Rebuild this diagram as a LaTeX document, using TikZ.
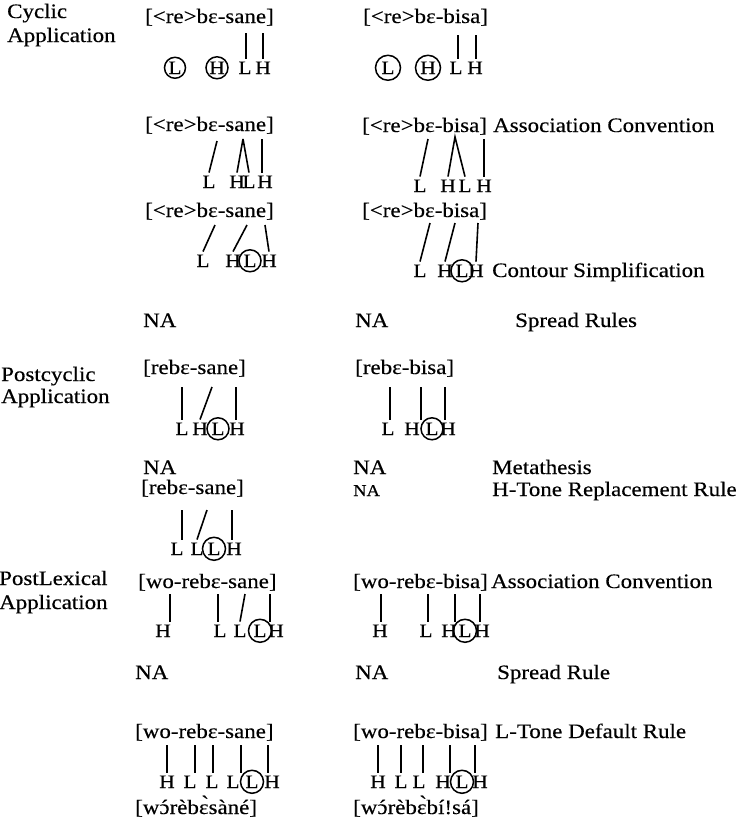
\documentclass[tikz,border=0pt]{standalone}
\usepackage{fontspec}
\setmainfont{Liberation Serif}[FakeStretch=1.12,FakeBold=0.35]
\newcommand{\acu}[1]{\accent"B4 #1}
\begin{document}
\begin{tikzpicture}[x=1pt,y=-1pt,
  lbl/.style={anchor=base west, inner sep=0pt, font=\fontsize{20.5}{24}\selectfont},
  smalllbl/.style={anchor=base west, inner sep=0pt, font=\fontsize{16.5}{19}\selectfont},
  tone/.style={anchor=base, inner sep=0pt, outer sep=3pt, font=\fontsize{19}{22}\selectfont},
  ringline/.style={line width=1.5pt},
  assoc/.style={line width=1.6pt},
]
\useasboundingbox (0,0) rectangle (742,825);

% ---------- Row labels
\node[lbl] (cyc1) at (7,18) {Cyclic};
\node[lbl] (cyc2) at (7,42) {Application};
\node[lbl] (pc1) at (1,381) {Postcyclic};
\node[lbl] (pc2) at (1,403) {Application};
\node[lbl] (pl1) at (-1,585) {PostLexical};
\node[lbl] (pl2) at (-1,609) {Application};

% ---------- Row 1
\node[lbl] (b1l) at (145,23) {[<re>bɛ-sane]};
\node[tone] (r1lA) at (175,74) {L};
\node[tone] (r1lB) at (217,74) {H};
\node[tone] (r1lC) at (245,74) {L};
\node[tone] (r1lD) at (263,74) {H};
\draw[ringline] (r1lA.center) circle[radius=10.5pt];
\draw[ringline] (r1lB.center) circle[radius=11pt];
\coordinate (t1l1) at (246,33);
\coordinate (t1l2) at (263,33);
\draw[assoc] (t1l1) -- (t1l1 |- r1lC.north);
\draw[assoc] (t1l2) -- (t1l2 |- r1lD.north);

\node[lbl] (b1r) at (363,23) {[<re>bɛ-bisa]};
\node[tone] (r1rA) at (388,74) {L};
\node[tone] (r1rB) at (428,74) {H};
\node[tone] (r1rC) at (456,74) {L};
\node[tone] (r1rD) at (475,74) {H};
\draw[ringline] (r1rA.center) circle[radius=12.5pt];
\draw[ringline] (r1rB.center) circle[radius=12.5pt];
\coordinate (t1r1) at (458,35);
\coordinate (t1r2) at (476,35);
\draw[assoc] (t1r1) -- (t1r1 |- r1rC.north);
\draw[assoc] (t1r2) -- (t1r2 |- r1rD.north);

% ---------- Row 2
\node[lbl] (b2l) at (145,131) {[<re>bɛ-sane]};
\node[tone] (r2lA) at (209,188) {L};
\node[tone] (r2lB) at (237,188) {H};
\node[tone] (r2lC) at (249,188) {L};
\node[tone] (r2lD) at (265,188) {H};
\coordinate (t2l1) at (217,141);
\coordinate (t2l2) at (243,139);
\coordinate (t2l3) at (262,139);
\draw[assoc] (t2l1) -- (r2lA.north);
\draw[assoc] (t2l2) -- (r2lB.north);
\draw[assoc] (t2l2) -- (r2lC.north);
\draw[assoc] (t2l3) -- (t2l3 |- r2lD.north);

\node[lbl] (b2r) at (362,132) {[<re>bɛ-bisa]};
\node[lbl] (rule2) at (493,132) {Association Convention};
\node[tone] (r2rA) at (420,192) {L};
\node[tone] (r2rB) at (448,192) {H};
\node[tone] (r2rC) at (465,192) {L};
\node[tone] (r2rD) at (484,192) {H};
\coordinate (t2r1) at (428,139);
\coordinate (t2r2) at (455,137);
\coordinate (t2r3) at (484,139);
\draw[assoc] (t2r1) -- (r2rA.north);
\draw[assoc] (r2rB.north) -- (t2r2) -- (r2rC.north);
\draw[assoc] (t2r3) -- (r2rD.north);

% ---------- Row 3
\node[lbl] (b3l) at (145,217) {[<re>bɛ-sane]};
\node[tone] (r3lA) at (203,267) {L};
\node[tone] (r3lB) at (233,267) {H};
\node[tone] (r3lC) at (250,267) {L};
\node[tone] (r3lD) at (269,267) {H};
\draw[ringline] (r3lC.center) circle[radius=11pt];
\coordinate (t3l1) at (215,225);
\coordinate (t3l2) at (247,225);
\coordinate (t3l3) at (265,225);
\draw[assoc] (t3l1) -- (r3lA.north);
\draw[assoc] (t3l2) -- (r3lB.north);
\draw[assoc] (t3l3) -- (r3lD.north);

\node[lbl] (b3r) at (362,217) {[<re>bɛ-bisa]};
\node[tone] (r3rA) at (420,277) {L};
\node[tone] (r3rB) at (445,277) {H};
\node[tone] (r3rC) at (462,277) {L};
\node[tone] (r3rD) at (476,277) {H};
\draw[ringline] (r3rC.center) circle[radius=11pt];
\node[lbl] (rule3) at (492,277) {Contour Simplification};
\coordinate (t3r1) at (430,223);
\coordinate (t3r2) at (455,223);
\coordinate (t3r3) at (478,223);
\draw[assoc] (t3r1) -- (r3rA.north);
\draw[assoc] (t3r2) -- (r3rB.north);
\draw[assoc] (t3r3) -- (r3rD.north);

% ---------- Row 4
\node[lbl] (na4l) at (143,327) {NA};
\node[lbl] (na4r) at (355,327) {NA};
\node[lbl] (rule4) at (515,327) {Spread Rules};

% ---------- Row 5
\node[lbl] (b5l) at (143,374) {[rebɛ-sane]};
\node[tone] (r5lA) at (182,435) {L};
\node[tone] (r5lB) at (200,435) {H};
\node[tone] (r5lC) at (218,435) {L};
\node[tone] (r5lD) at (237,435) {H};
\draw[ringline] (r5lC.center) circle[radius=11pt];
\coordinate (t5l1) at (182,387);
\coordinate (t5l2) at (212,387);
\coordinate (t5l3) at (236,387);
\draw[assoc] (t5l1) -- (t5l1 |- r5lA.north);
\draw[assoc] (t5l2) -- (r5lB.north);
\draw[assoc] (t5l3) -- (t5l3 |- r5lD.north);

\node[lbl] (b5r) at (355,374) {[rebɛ-bisa]};
\node[tone] (r5rA) at (388,435) {L};
\node[tone] (r5rB) at (412,435) {H};
\node[tone] (r5rC) at (432,435) {L};
\node[tone] (r5rD) at (448,435) {H};
\draw[ringline] (r5rC.center) circle[radius=11pt];
\coordinate (t5r1) at (390,387);
\coordinate (t5r2) at (421,387);
\coordinate (t5r3) at (445,387);
\draw[assoc] (t5r1) -- (t5r1 |- r5rA.north);
\draw[assoc] (t5r2) -- (t5r2 |- r5rB.north);
\draw[assoc] (t5r3) -- (t5r3 |- r5rD.north);

% ---------- Row 6
\node[lbl] (na6l) at (143,474) {NA};
\node[lbl] (na6r) at (353,474) {NA};
\node[lbl] (rule6) at (492,474) {Metathesis};

% ---------- Row 7
\node[lbl] (b7l) at (141,494) {[rebɛ-sane]};
\node[tone] (r7lA) at (177,555) {L};
\node[tone] (r7lB) at (197,555) {L};
\node[tone] (r7lC) at (214,555) {L};
\node[tone] (r7lD) at (234,555) {H};
\draw[ringline] (r7lC.center) circle[radius=11.5pt];
\coordinate (t7l1) at (182,510);
\coordinate (t7l2) at (207,510);
\coordinate (t7l3) at (232,510);
\draw[assoc] (t7l1) -- (t7l1 |- r7lA.north);
\draw[assoc] (t7l2) -- (r7lB.north);
\draw[assoc] (t7l3) -- (t7l3 |- r7lD.north);

\node[smalllbl] (na7r) at (353,496) {NA};
\node[lbl] (rule7) at (492,496) {H-Tone Replacement Rule};

% ---------- Row 8
\node[lbl] (b8l) at (138,588) {[wo-rebɛ-sane]};
\node[tone] (r8lA) at (163,637) {H};
\node[tone] (r8lB) at (220,637) {L};
\node[tone] (r8lC) at (240,637) {L};
\node[tone] (r8lD) at (260,637) {L};
\node[tone] (r8lE) at (276,637) {H};
\draw[ringline] (r8lD.center) circle[radius=11.5pt];
\coordinate (t8l1) at (170,594);
\coordinate (t8l2) at (218,594);
\coordinate (t8l3) at (245,594);
\coordinate (t8l4) at (270,594);
\draw[assoc] (t8l1) -- (t8l1 |- r8lA.north);
\draw[assoc] (t8l2) -- (t8l2 |- r8lB.north);
\draw[assoc] (t8l3) -- (r8lC.north);
\draw[assoc] (t8l4) -- (t8l4 |- r8lE.north);

\node[lbl] (b8r) at (353,588) {[wo-rebɛ-bisa]};
\node[lbl] (rule8) at (491,588) {Association Convention};
\node[tone] (r8rA) at (380,637) {H};
\node[tone] (r8rB) at (426,637) {L};
\node[tone] (r8rC) at (449,637) {H};
\node[tone] (r8rD) at (465,637) {L};
\node[tone] (r8rE) at (482,637) {H};
\draw[ringline] (r8rD.center) circle[radius=11.5pt];
\coordinate (t8r1) at (381,594);
\coordinate (t8r2) at (428,594);
\coordinate (t8r3) at (455,594);
\coordinate (t8r4) at (480,594);
\draw[assoc] (t8r1) -- (t8r1 |- r8rA.north);
\draw[assoc] (t8r2) -- (t8r2 |- r8rB.north);
\draw[assoc] (t8r3) -- (t8r3 |- r8rC.north);
\draw[assoc] (t8r4) -- (t8r4 |- r8rE.north);

% ---------- Row 9
\node[lbl] (na9l) at (135,679) {NA};
\node[lbl] (na9r) at (355,679) {NA};
\node[lbl] (rule9) at (497,679) {Spread Rule};

% ---------- Row 10
\node[lbl] (b10l) at (135,738) {[wo-rebɛ-sane]};
\node[tone] (r10lA) at (167,788) {H};
\node[tone] (r10lB) at (190,788) {L};
\node[tone] (r10lC) at (212,788) {L};
\node[tone] (r10lD) at (233,788) {L};
\node[tone] (r10lE) at (252,788) {L};
\node[tone] (r10lF) at (272,788) {H};
\draw[ringline] (r10lE.center) circle[radius=11.5pt];
\coordinate (t10l1) at (167,745);
\coordinate (t10l2) at (195,745);
\coordinate (t10l3) at (213,745);
\coordinate (t10l4) at (241,745);
\coordinate (t10l5) at (268,745);
\draw[assoc] (t10l1) -- (t10l1 |- r10lA.north);
\draw[assoc] (t10l2) -- (t10l2 |- r10lB.north);
\draw[assoc] (t10l3) -- (t10l3 |- r10lC.north);
\draw[assoc] (t10l4) -- (t10l4 |- r10lD.north);
\draw[assoc] (t10l5) -- (t10l5 |- r10lF.north);
\node[lbl] (f10l) at (135,814) {[w\acu{ɔ}rèbɛ̀sàné]};

\node[lbl] (b10r) at (353,738) {[wo-rebɛ-bisa]};
\node[lbl] (rule10) at (495,738) {L-Tone Default Rule};
\node[tone] (r10rA) at (378,788) {H};
\node[tone] (r10rB) at (401,788) {L};
\node[tone] (r10rC) at (419,788) {L};
\node[tone] (r10rD) at (443,788) {H};
\node[tone] (r10rE) at (462,788) {L};
\node[tone] (r10rF) at (480,788) {H};
\draw[ringline] (r10rE.center) circle[radius=11.5pt];
\coordinate (t10r1) at (378,745);
\coordinate (t10r2) at (401,745);
\coordinate (t10r3) at (423,745);
\coordinate (t10r4) at (450,745);
\coordinate (t10r5) at (475,745);
\draw[assoc] (t10r1) -- (t10r1 |- r10rA.north);
\draw[assoc] (t10r2) -- (t10r2 |- r10rB.north);
\draw[assoc] (t10r3) -- (t10r3 |- r10rC.north);
\draw[assoc] (t10r4) -- (t10r4 |- r10rD.north);
\draw[assoc] (t10r5) -- (t10r5 |- r10rF.north);
\node[lbl] (f10r) at (353,814) {[w\acu{ɔ}rèbɛ̀bí!sá]};
\end{tikzpicture}
\end{document}
